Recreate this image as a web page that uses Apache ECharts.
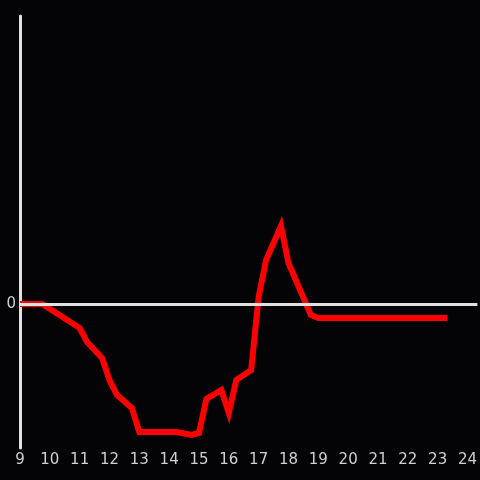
<!DOCTYPE html>
<html>
<head>
<meta charset="utf-8">
<script src="https://cdn.jsdelivr.net/npm/echarts@6/dist/echarts.min.js"></script>
<style>
html,body{margin:0;padding:0;background:#040305;}
#c{width:480px;height:480px;}
</style>
</head>
<body>
<div id="c"></div>
<script>
var xValues = [9, 9.75, 11, 11.25, 11.75, 12, 12.25, 12.75, 13, 14.25, 14.75, 15, 15.25, 15.75, 16, 16.25, 16.75, 17, 17.25, 17.75, 18, 18.75, 19, 23.33];
var yValues = [0, 0, -24, -38, -54, -76, -91, -104, -128, -128, -131, -129, -95, -86, -109, -76, -66, 7, 44, 78, 41, -11, -14, -14];
var xTickLabels = ['9','10','11','12','13','14','15','16','17','18','19','20','21','22','23','24'];
var yTickLabels = ['0'];

var data = xValues.map(function (x, i) { return [x, yValues[i]]; });
var chart = echarts.init(document.getElementById('c'), null, {renderer: 'canvas'});
chart.setOption({
  backgroundColor: '#040305',
  animation: false,
  grid: {left: 20, right: 0, top: 16, bottom: 32, containLabel: false},
  xAxis: {
    type: 'value', min: 9, max: 24.333, interval: 1,
    axisLine: {show: false}, axisTick: {show: false}, splitLine: {show: false},
    axisLabel: {
      color: '#d0d0d0', fontSize: 15, margin: 5, showMaxLabel: false,
      fontFamily: 'DejaVu Sans',
      formatter: function (v) { var s = String(Math.round(v)); return (Math.abs(v - Math.round(v)) < 1e-6 && xTickLabels.indexOf(s) >= 0) ? s : ''; }
    }
  },
  yAxis: {
    type: 'value', min: -144, max: 288, interval: 144,
    axisLine: {show: true, lineStyle: {color: '#e0e0e0', width: 3}},
    axisTick: {show: false}, splitLine: {show: false},
    axisLabel: {
      color: '#d0d0d0', fontSize: 15, margin: 4, fontFamily: 'DejaVu Sans',
      formatter: function (v) { return yTickLabels.indexOf(String(v)) >= 0 ? String(v) : ''; }
    }
  },
  series: [
    {
      type: 'line', data: [], z: 1, silent: true,
      markLine: {
        silent: true, symbol: 'none', animation: false,
        label: {show: false},
        lineStyle: {color: '#e0e0e0', width: 3, type: 'solid'},
        data: [{yAxis: 0}]
      }
    },
    {
      type: 'line', data: data, z: 3, showSymbol: false, symbol: 'none',
      lineStyle: {color: '#ff0000', width: 6, join: 'miter'},
      itemStyle: {color: '#ff0000'}
    }
  ]
});
</script>
</body>
</html>
